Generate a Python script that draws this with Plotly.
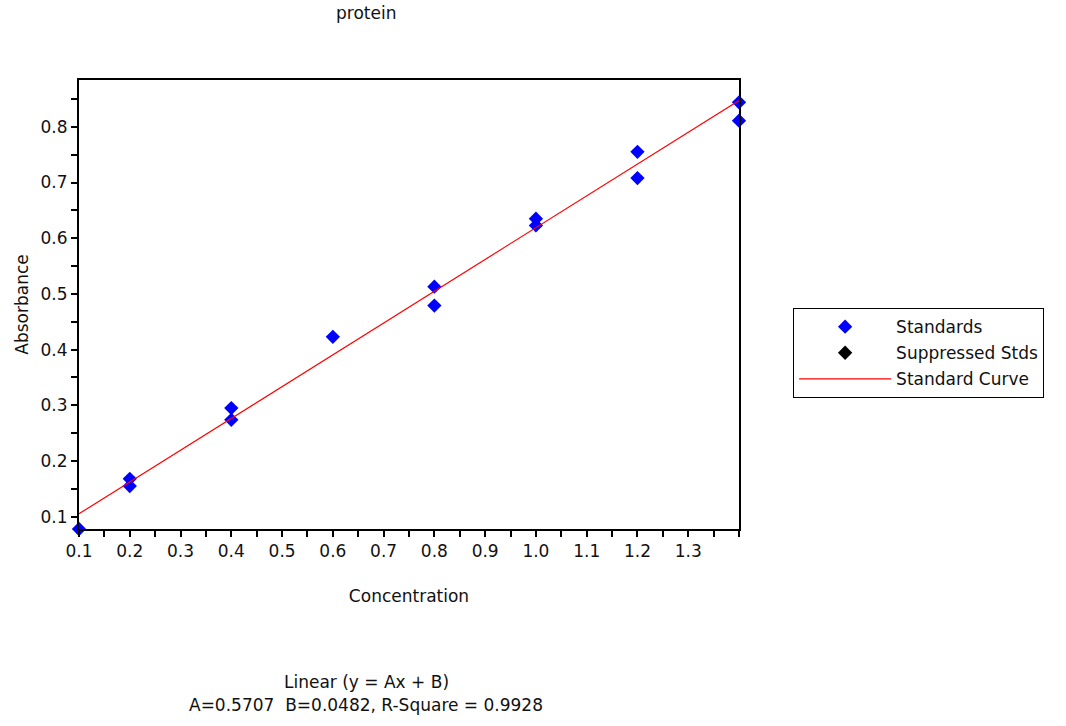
import plotly.graph_objects as go

# ---- data ----
conc_std = [0.1, 0.2, 0.2, 0.4, 0.4, 0.6, 0.8, 0.8, 1.0, 1.0, 1.2, 1.2, 1.4, 1.4]
abs_std = [0.078, 0.168, 0.155, 0.295, 0.274, 0.423, 0.513, 0.479, 0.635, 0.623, 0.755, 0.708, 0.844, 0.811]
A = 0.5707
B = 0.0482
R2 = 0.9928
curve_x = [0.1, 1.4]
curve_y = [A * v + B for v in curve_x]

x_tickvals = [0.1, 0.2, 0.3, 0.4, 0.5, 0.6, 0.7, 0.8, 0.9, 1.0, 1.1, 1.2, 1.3]
x_minor = [0.15, 0.25, 0.35, 0.45, 0.55, 0.65, 0.75, 0.85, 0.95, 1.05, 1.15, 1.25, 1.35, 1.4]
y_tickvals = [0.1, 0.2, 0.3, 0.4, 0.5, 0.6, 0.7, 0.8]
y_minor = [0.15, 0.25, 0.35, 0.45, 0.55, 0.65, 0.75, 0.85]

FONT = "DejaVu Sans"
FS = 17
TXT = "#111"

fig = go.Figure()
fig.add_trace(go.Scatter(
    x=conc_std, y=abs_std, mode="markers", name="Standards",
    marker=dict(symbol="diamond", size=11, color="#0000FF"),
    legendgroup="a", cliponaxis=False,
))
fig.add_trace(go.Scatter(
    x=[None], y=[None], mode="markers", name="Suppressed Stds",
    marker=dict(symbol="diamond", size=11, color="#000000"),
    legendgroup="b",
))
fig.add_trace(go.Scatter(
    x=curve_x, y=curve_y, mode="lines", name="Standard Curve",
    line=dict(color="#FF0000", width=1.2),
    legendgroup="c",
))

axis_common = dict(
    showline=True, linecolor="black", linewidth=2, mirror=True,
    ticks="outside", ticklen=6, tickwidth=2, tickcolor="black",
    showgrid=False, zeroline=False, tickformat=".1f",
    tickfont=dict(family=FONT, size=FS, color=TXT),
)

fig.update_xaxes(
    range=[0.1, 1.4], tickvals=x_tickvals,
    minor=dict(tickvals=x_minor, ticks="outside", ticklen=6, tickwidth=2, tickcolor="black"),
    title=dict(text="Concentration", font=dict(family=FONT, size=FS, color=TXT), standoff=30),
    **axis_common,
)
fig.update_yaxes(
    range=[0.078, 0.884], tickvals=y_tickvals,
    minor=dict(tickvals=y_minor, ticks="outside", ticklen=6, tickwidth=2, tickcolor="black"),
    title=dict(text="Absorbance", font=dict(family=FONT, size=FS, color=TXT), standoff=8),
    **axis_common,
)

fig.update_layout(
    width=1066, height=726,
    margin=dict(l=79, r=327, t=80, b=197),
    paper_bgcolor="white", plot_bgcolor="white",
    font=dict(family=FONT, size=FS, color=TXT),
    showlegend=True,
    legend=dict(
        x=1.082, y=0.492, xanchor="left", yanchor="top",
        bordercolor="black", borderwidth=1, bgcolor="white",
        font=dict(family=FONT, size=FS, color=TXT),
        itemwidth=92, traceorder="grouped", tracegroupgap=1,
    ),
    annotations=[
        dict(text="protein", xref="paper", yref="paper",
             x=(366 - 79) / 660, y=(529 - 13) / 449, showarrow=False,
             font=dict(family=FONT, size=FS, color=TXT), xanchor="center", yanchor="middle"),
        dict(text="Linear (y = Ax + B)", xref="paper", yref="paper",
             x=(366 - 79) / 660, y=(529 - 682) / 449, showarrow=False,
             font=dict(family=FONT, size=FS, color=TXT), xanchor="center", yanchor="middle"),
        dict(text=f"A={A}&nbsp;&nbsp;B={B}, R-Square = {R2}", xref="paper", yref="paper",
             x=(366 - 79) / 660, y=(529 - 705) / 449, showarrow=False,
             font=dict(family=FONT, size=FS, color=TXT), xanchor="center", yanchor="middle"),
    ],
)

fig.write_html("out.html")
